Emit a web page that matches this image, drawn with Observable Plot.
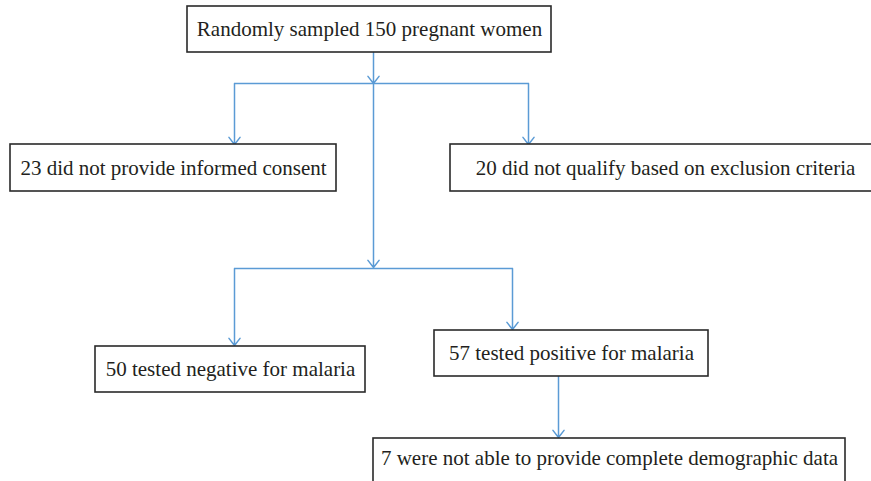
<!DOCTYPE html>
<html>
<head>
<meta charset="utf-8">
<script src="https://cdn.jsdelivr.net/npm/d3@7"></script>
<script src="https://cdn.jsdelivr.net/npm/@observablehq/plot@0.6"></script>
<style>
  html, body { margin: 0; padding: 0; background: #fff; overflow: hidden; }
</style>
</head>
<body>
<div id="chart"></div>
<script>
// Flowchart content
const labels = [
  "Randomly sampled 150 pregnant women",
  "23 did not provide informed consent",
  "20 did not qualify based on exclusion criteria",
  "50 tested negative for malaria",
  "57 tested positive for malaria",
  "7 were not able to provide complete demographic data"
];
const counts = [150, 23, 20, 50, 57, 7];

// Layout (pixel space of the 871x481 canvas)
const boxX1 = [187, 10, 450, 95, 434, 373];
const boxX2 = [551, 336, 880, 365, 708, 845];
const boxY1 = [6, 144, 144, 346, 330, 438];
const boxY2 = [52, 191, 191, 392, 376, 492];

const nodes = labels.map((label, i) => ({
  label, count: counts[i],
  x1: boxX1[i], x2: boxX2[i], y1: boxY1[i], y2: boxY2[i]
}));

// connectors: arrows (from -> to) and plain horizontal links
const arrows = [
  {x1: 373, y1: 52, x2: 373, y2: 83},
  {x1: 373, y1: 83, x2: 373, y2: 267},
  {x1: 234, y1: 83, x2: 234, y2: 144},
  {x1: 528, y1: 83, x2: 528, y2: 144},
  {x1: 234, y1: 268, x2: 234, y2: 345},
  {x1: 512, y1: 268, x2: 512, y2: 329},
  {x1: 558, y1: 376, x2: 558, y2: 437}
];
const links = [
  {x1: 234, y1: 83, x2: 528, y2: 83},
  {x1: 234, y1: 268, x2: 512, y2: 268}
];

const blue = "#5b9bd5";

const chart = Plot.plot({
  width: 871,
  height: 481,
  margin: 0,
  x: {domain: [0, 871], axis: null},
  y: {domain: [0, 481], reverse: true, axis: null},
  style: {background: "#fff"},
  marks: [
    Plot.link(links, {x1: "x1", y1: "y1", x2: "x2", y2: "y2", stroke: blue, strokeWidth: 1.5}),
    Plot.arrow(arrows, {x1: "x1", y1: "y1", x2: "x2", y2: "y2", stroke: blue, strokeWidth: 1.5,
      bend: 0, headLength: 9, headAngle: 76, inset: 0}),
    Plot.rect(nodes, {x1: "x1", x2: "x2", y1: "y1", y2: "y2", fill: "#fff", stroke: "#2a2a2a", strokeWidth: 1.6}),
    Plot.text(nodes, {
      x: d => (d.x1 + d.x2) / 2,
      y: d => (Math.min(d.y2, 481) === 481 ? 458 : (d.y1 + d.y2) / 2),
      text: "label",
      fontFamily: "'Liberation Serif', 'Times New Roman', serif",
      fontSize: 21,
      fill: "#231f20",
      textAnchor: "middle",
      lineAnchor: "middle"
    })
  ]
});
document.getElementById("chart").appendChild(chart);
</script>
</body>
</html>
